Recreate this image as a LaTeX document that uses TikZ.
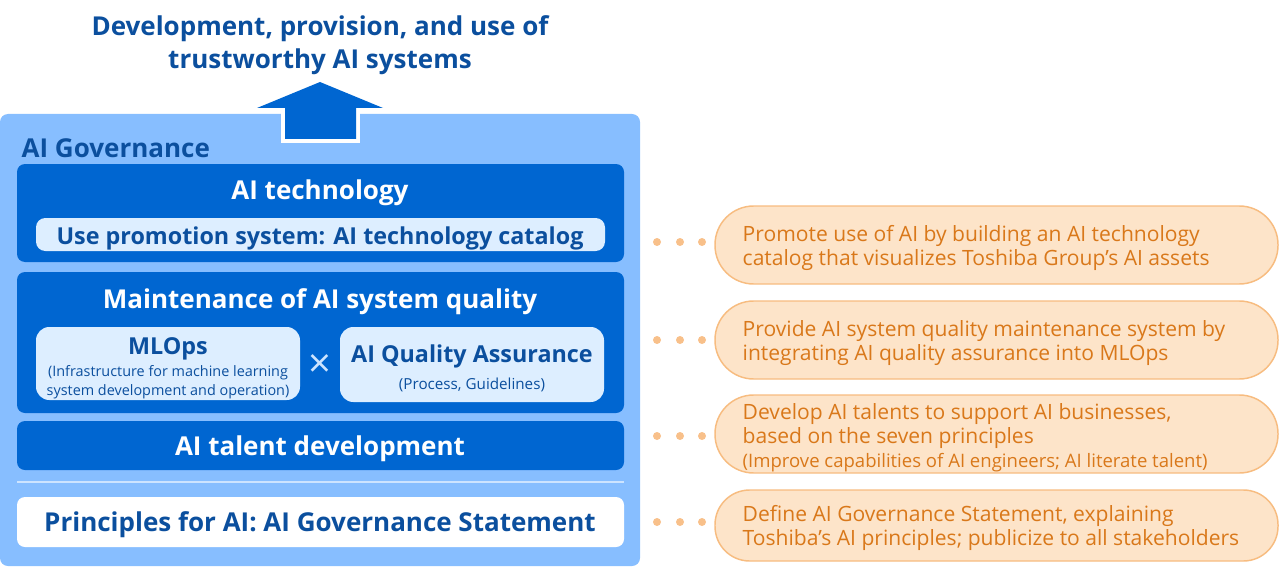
\documentclass[tikz,border=0pt]{standalone}
\usepackage{fontspec}
\setmainfont{Open Sans}
\definecolor{govdark}{HTML}{0B4F9E}
\definecolor{govblue}{HTML}{0066D1}
\definecolor{govlight}{HTML}{87BEFF}
\definecolor{govpale}{HTML}{DDEEFF}
\definecolor{govline}{HTML}{CDE4FF}
\definecolor{dotorange}{HTML}{F8C08A}
\definecolor{bubfill}{HTML}{FDE4C9}
\definecolor{bubline}{HTML}{F7BC80}
\definecolor{bubtext}{HTML}{D9781A}

\begin{document}
\begin{tikzpicture}[x=0.75pt,y=-0.75pt,
  big/.style={font=\bfseries\fontsize{19.5}{24.75}\selectfont},
  mid/.style={font=\bfseries\fontsize{17.5}{21}\selectfont,inner sep=1pt},
  small/.style={font=\fontsize{10.8}{14.25}\selectfont,inner sep=1pt},
  note/.style={anchor=west,align=left,text=bubtext,font=\fontsize{15.8}{18}\selectfont}]
\useasboundingbox (0,0) rectangle (1280,574);

\node[big,text=govdark,align=center] (goal) at (320,45) {Development, provision, and use of\\trustworthy AI systems};

\fill[govlight,rounded corners=6pt] (0,114) rectangle (640,566);
\fill[white] (281,108) rectangle (360,143);
\fill[govblue] (285,139) -- (285,108) -- (257,108) -- (320,82) -- (383,108) -- (356,108) -- (356,139) -- cycle;
\node[big,text=govdark,anchor=west] (gov) at (17,148) {AI Governance};

% AI technology
\fill[govblue,rounded corners=6pt] (17,164) rectangle (624,262);
\node[big,text=white] (tech) at (320,193) {AI technology};
\fill[govpale,rounded corners=7pt] (36,218) rectangle (605,251);
\node[mid,text=govdark] (catalog) at (320,238) {Use promotion system: AI technology catalog};

% quality
\fill[govblue,rounded corners=6pt] (17,272) rectangle (624,413);
\node[big,text=white] (quality) at (320,302) {Maintenance of AI system quality};
\fill[govpale,rounded corners=10pt] (36,327) rectangle (300,400);
\node[mid,text=govdark] (mlops) at (168,349) {MLOps};
\node[small,text=govdark,align=center] (mlopsnote) at (168,382) {(Infrastructure for machine learning\\system development and operation)};
\node[font=\fontsize{30}{30}\selectfont,text=govline] (times) at (320,366) {×};
\fill[govpale,rounded corners=10pt] (340,327) rectangle (604,402);
\node[mid,text=govdark] (qa) at (472,356) {AI Quality Assurance};
\node[small,font=\fontsize{11.4}{14.25}\selectfont,text=govdark] (qanote) at (472,385) {(Process, Guidelines)};

% talent
\fill[govblue,rounded corners=6pt] (17,421) rectangle (624,470);
\node[big,text=white] (talent) at (320,449) {AI talent development};
\draw[govline,line width=1.1pt] (17,482) -- (624,482);

% principles
\fill[white,rounded corners=6pt] (17,497) rectangle (624,547);
\node[big,text=govdark] (principles) at (320,525) {Principles for AI: AI Governance Statement};

% dots and bubbles
\foreach \y in {242,340,436,522}
  \foreach \x in {657,680,702}
    \fill[dotorange] (\x,\y) circle (3pt);
\filldraw[fill=bubfill,draw=bubline,line width=1.1pt,rounded corners=29pt] (715,206) rectangle (1278,284);
\filldraw[fill=bubfill,draw=bubline,line width=1.1pt,rounded corners=29pt] (715,301) rectangle (1278,379);
\filldraw[fill=bubfill,draw=bubline,line width=1.1pt,rounded corners=29pt] (715,395) rectangle (1278,473);
\filldraw[fill=bubfill,draw=bubline,line width=1.1pt,rounded corners=26pt] (715,490) rectangle (1278,561);
\node[note] (use) at (738,248) {Promote use of AI by building an AI technology\\catalog that visualizes Toshiba Group’s AI assets};
\node[note] (keep) at (738,343) {Provide AI system quality maintenance system by\\integrating AI quality assurance into MLOps};
\node[note] (grow) at (738,438) {Develop AI talents to support AI businesses,\\based on the seven principles\\{\fontsize{13.9}{17}\selectfont(Improve capabilities of AI engineers; AI literate talent)}};
\node[note] (state) at (738,528) {Define AI Governance Statement, explaining\\Toshiba’s AI principles; publicize to all stakeholders};
\end{tikzpicture}
\end{document}
